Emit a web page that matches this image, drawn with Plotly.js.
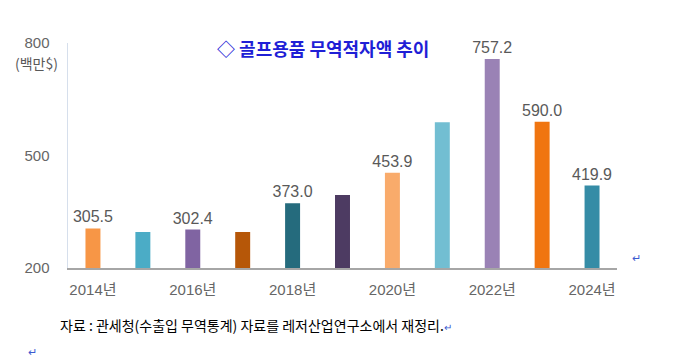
<!DOCTYPE html>
<html>
<head>
<meta charset="utf-8">
<script src="https://cdn.plot.ly/plotly-3.0.1.min.js"></script>
<style>
html,body{margin:0;padding:0;background:#fff;}
#chart{width:680px;height:359px;}
</style>
</head>
<body>
<div id="chart"></div>
<script>
// Data
var years = ["2014","2015","2016","2017","2018","2019","2020","2021","2022","2023","2024"];
var deficit = [305.5, 296, 302.4, 296, 373.0, 395, 453.9, 589, 757.2, 590.0, 419.9];
var labelShown = [true, false, true, false, true, false, true, false, true, true, true];
var tickYears = ["2014","2016","2018","2020","2022","2024"];
var tickLabels = ["2014년","2016년","2018년","2020년","2022년","2024년"];
var yTicks = [200, 500, 800];
var titleText = "◇ 골프용품 무역적자액 추이";
var unitText = "(백만$)";
var sourceText = "자료 : 관세청(수출입 무역통계) 자료를 레저산업연구소에서 재정리.";

// Styles
var barColors = ["#f79646","#4bacc6","#8064a2","#b65708","#256b7d","#4d3b62",
                 "#f9ab6b","#72bed2","#9a82b5","#f07510","#358ca6"];
var FONT = 'Liberation Sans, Arial, "Noto Sans CJK KR", sans-serif';
var KFONT = '"Noto Sans CJK KR", "Liberation Sans", sans-serif';

var texts = deficit.map(function(v, i){ return labelShown[i] ? v.toFixed(1) : ""; });

var trace = {
  type: "bar",
  x: years,
  y: deficit,
  base: 0,
  marker: {color: barColors, line: {width: 0}},
  text: texts,
  textposition: "outside",
  constraintext: "none",
  cliponaxis: false,
  textfont: {family: FONT, size: 16, color: "#595959"},
  hoverinfo: "none"
};

var layout = {
  width: 680, height: 359,
  margin: {l: 68, r: 63, t: 43, b: 91},
  paper_bgcolor: "#ffffff",
  plot_bgcolor: "#ffffff",
  showlegend: false,
  bargap: 0.7,
  font: {family: FONT, color: "#595959"},
  xaxis: {
    type: "category",
    range: [-0.5, 10.5],
    tickmode: "array",
    tickvals: tickYears,
    ticktext: tickLabels,
    tickfont: {family: FONT, size: 15, color: "#666666"},
    ticks: "outside", ticklen: 7, tickcolor: "rgba(0,0,0,0)",
    showline: true, linecolor: "#a6a6a6", linewidth: 1.5,
    showgrid: false, zeroline: false, fixedrange: true
  },
  yaxis: {
    range: [200, 800],
    tickmode: "array",
    tickvals: yTicks,
    ticktext: yTicks.map(String),
    tickfont: {family: FONT, size: 15, color: "#666666"},
    ticks: "outside", ticklen: 14, tickcolor: "rgba(0,0,0,0)",
    showline: true, linecolor: "#d6dfec", linewidth: 1.5,
    showgrid: false, zeroline: false, fixedrange: true
  },
  annotations: [
    {text: "<b>" + titleText + "</b>", xref: "paper", yref: "paper", x: 0.465, y: 0.98,
     xanchor: "center", yanchor: "middle", showarrow: false,
     font: {family: KFONT, size: 18, color: "#1f1fd6"}},
    {text: unitText, xref: "paper", yref: "paper", x: -0.015, y: 0.912,
     xanchor: "right", yanchor: "middle", showarrow: false,
     font: {family: KFONT, size: 14, color: "#595959"}},
    {text: sourceText + '<span style="color:#3a5bd0;font-size:10px">↵</span>',
     xref: "paper", yref: "paper", x: -0.018, y: -0.255,
     xanchor: "left", yanchor: "middle", showarrow: false,
     font: {family: KFONT, size: 14, color: "#000000"}},
    {text: "↵", xref: "paper", yref: "paper", x: 1.035, y: 0.05,
     xanchor: "center", yanchor: "middle", showarrow: false,
     font: {family: KFONT, size: 11, color: "#3a5bd0"}},
    {text: "↵", xref: "paper", yref: "paper", x: -0.065, y: -0.37,
     xanchor: "center", yanchor: "middle", showarrow: false,
     font: {family: KFONT, size: 11, color: "#3a5bd0"}}
  ]
};

Plotly.newPlot("chart", [trace], layout, {displayModeBar: false, staticPlot: true});
</script>
</body>
</html>
